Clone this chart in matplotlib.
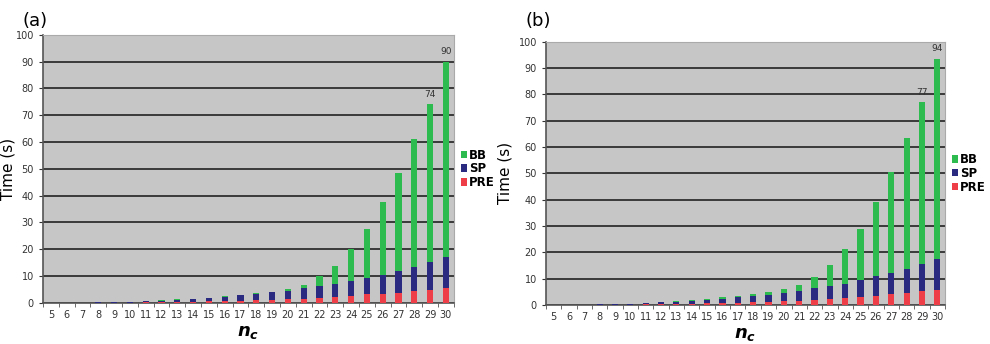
import numpy as np
import matplotlib.pyplot as plt
from matplotlib.ticker import FixedLocator

nc = list(range(5, 31))

# panel (a): PRE, SP top (PRE+SP), total
pre_a = [0.02, 0.03, 0.04, 0.05, 0.07, 0.1, 0.2, 0.3, 0.4, 0.5, 0.6, 0.7, 0.9, 1.1, 1.2,
         1.5, 1.6, 2.0, 2.2, 2.6, 3.2, 3.4, 3.9, 4.5, 5.0, 5.7]
sptop_a = [0.05, 0.1, 0.15, 0.2, 0.3, 0.35, 0.7, 0.9, 1.2, 1.5, 1.8, 2.4, 2.8, 3.3, 4.0,
           4.6, 5.6, 6.2, 7.1, 8.2, 9.3, 10.6, 12.1, 13.6, 15.1, 17.2]
total_a = [0.05, 0.1, 0.15, 0.2, 0.3, 0.4, 0.75, 1.0, 1.4, 1.6, 2.0, 2.5, 3.0, 3.7, 4.2,
           5.3, 6.7, 10.0, 13.9, 20.0, 27.5, 37.8, 48.6, 61.0, 74.2, 90.0]

# panel (b)
pre_b = [0.02, 0.03, 0.04, 0.05, 0.1, 0.15, 0.2, 0.3, 0.4, 0.5, 0.6, 0.8, 0.9, 1.0, 1.2,
         1.5, 1.6, 1.9, 2.4, 2.8, 3.1, 3.6, 4.0, 4.6, 5.2, 5.8]
sptop_b = [0.05, 0.1, 0.15, 0.2, 0.3, 0.4, 0.7, 1.0, 1.3, 1.6, 1.9, 2.3, 2.9, 3.5, 3.9,
           4.6, 5.4, 6.3, 7.4, 8.1, 9.4, 10.9, 12.3, 13.8, 15.5, 17.4]
total_b = [0.05, 0.1, 0.15, 0.2, 0.35, 0.45, 0.8, 1.1, 1.5, 1.9, 2.3, 2.9, 3.4, 4.1, 5.0,
           6.2, 7.6, 10.8, 15.1, 21.4, 29.0, 39.2, 50.6, 63.4, 77.2, 93.6]

green = "#2dbb4f"
navy = "#2a2a80"
red = "#ee3f48"

plt.rcParams["mathtext.default"] = "bfit"
fig = plt.figure(figsize=(9.9, 3.44), dpi=100)


def panel(rect, pre, sptop, total, tag, ylab_x):
    ax = fig.add_axes(rect)
    x = np.arange(len(nc))
    pre = np.array(pre)
    sp = np.array(sptop) - pre
    bb = np.array(total) - np.array(sptop)
    w = 0.4
    ax.bar(x, pre, w, color=red, label="PRE", zorder=3)
    ax.bar(x, sp, w, bottom=pre, color=navy, label="SP", zorder=3)
    ax.bar(x, bb, w, bottom=pre + sp, color=green, label="BB", zorder=3)
    # value labels on the two last bars
    for i in (len(nc) - 2, len(nc) - 1):
        ax.text(x[i], total[i] + 2, f"{round(total[i])}", ha="center", va="bottom",
                fontsize=6.5, color="#333333")
    ax.set_facecolor("#c6c6c6")
    ax.set_xlim(-0.5, len(nc) - 0.5)
    ax.set_ylim(0, 100)
    ax.set_yticks(range(0, 101, 10))
    ax.yaxis.grid(True, color="#222222", linewidth=1.2, zorder=1)
    ax.set_axisbelow(True)
    ax.set_xticks(x)
    ax.set_xticklabels([str(n) for n in nc])
    ax.xaxis.set_minor_locator(FixedLocator(np.arange(-0.5, len(nc), 1)))
    ax.tick_params(axis="x", which="major", length=0, labelsize=7, colors="#333333", pad=5)
    ax.tick_params(axis="x", which="minor", length=3, color="#555555")
    ax.tick_params(axis="y", labelsize=7, colors="#333333", length=3)
    for s in ("top", "right"):
        ax.spines[s].set_color("#aaaaaa")
        ax.spines[s].set_linewidth(0.8)
    for s in ("left", "bottom"):
        ax.spines[s].set_color("#555555")
        ax.spines[s].set_linewidth(1.2)
    ax.set_ylabel("Time (s)", fontsize=11)
    ax.yaxis.set_label_coords(ylab_x, 0.5)
    ax.set_xlabel("$n_c$", fontsize=13, labelpad=2)
    h, l = ax.get_legend_handles_labels()
    ax.legend(h[::-1], l[::-1], loc="center left", bbox_to_anchor=(1.0, 0.5),
              frameon=False, handlelength=0.5, handleheight=0.6,
              handletextpad=0.2, labelspacing=0.05, borderaxespad=0.2,
              prop={"weight": "bold", "size": 8.5})
    fig.text(rect[0] - 0.021, 0.965, tag, fontsize=13, va="top")
    return ax


panel([0.0434, 0.1192, 0.415, 0.780], pre_a, sptop_a, total_a, "(a)", -0.068)
panel([0.5515, 0.1134, 0.403, 0.765], pre_b, sptop_b, total_b, "(b)", -0.085)

plt.savefig("out.png", dpi=100)
